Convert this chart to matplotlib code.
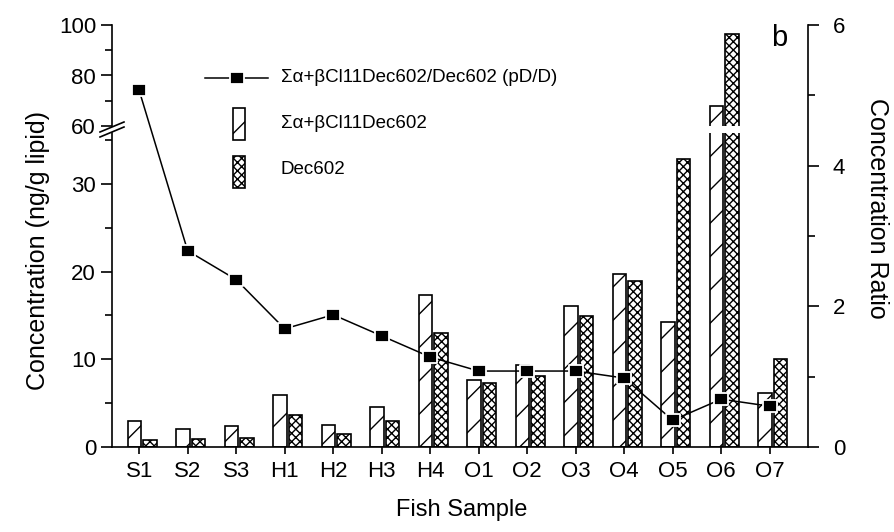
import numpy as np
import matplotlib.pyplot as plt
from matplotlib.lines import Line2D
from matplotlib.patches import Rectangle
from matplotlib.ticker import MultipleLocator

plt.rcParams['font.family'] = ['Liberation Sans', 'DejaVu Sans']
plt.rcParams['hatch.linewidth'] = 1.0

# datos
muestras = ['S1', 'S2', 'S3', 'H1', 'H2', 'H3', 'H4',
            'O1', 'O2', 'O3', 'O4', 'O5', 'O6', 'O7']
sum_cl11 = [3.0, 2.0, 2.35, 5.9, 2.5, 4.6, 17.3, 7.64, 9.35, 16.1, 19.76, 14.2, 68.0, 6.1]
dec602 = [0.8, 0.9, 1.07, 3.65, 1.45, 2.96, 13.0, 7.26, 8.13, 14.97, 18.93, 32.8, 96.5, 10.07]
ratio = [5.07, 2.79, 2.38, 1.68, 1.88, 1.58, 1.28, 1.08, 1.08, 1.08, 0.98, 0.38, 0.68, 0.58]

lab_ratio = 'Σα+βCl11Dec602/Dec602 (pD/D)'
lab_sum = 'Σα+βCl11Dec602'
lab_dec = 'Dec602'

W, H = 895, 532


def caja(x0, y0, x1, y1):
    # pixeles -> fraccion de figura
    return [x0 / W, 1 - y1 / H, (x1 - x0) / W, (y1 - y0) / H]


def px(x, y):
    return x / W, 1 - y / H


fig = plt.figure(figsize=(W / 100, H / 100), dpi=100)
ax_lo = fig.add_axes(caja(112, 133, 808, 447))
ax_hi = fig.add_axes(caja(112, 25, 808, 126))
ax_r = fig.add_axes(caja(112, 25, 808, 447))

x = np.arange(len(muestras))
ancho = 0.28
xlim = (-0.56, 13.79)
cruz = 'xxxx'

for ax in (ax_lo, ax_hi):
    ax.bar(x - 0.1, sum_cl11, ancho, facecolor='white', edgecolor='k',
           hatch='/', linewidth=1.2)
    ax.bar(x + 0.22, dec602, ancho, facecolor='white', edgecolor='k',
           hatch=cruz, linewidth=1.2)
    ax.set_xlim(xlim)
    ax.spines['top'].set_visible(False)
    ax.spines['right'].set_visible(False)
    ax.tick_params(axis='y', which='major', direction='out', length=8,
                   width=1.2, labelsize=16)
    ax.tick_params(axis='y', which='minor', direction='out', length=5, width=1.2)
    ax.spines['left'].set_linewidth(1.2)

ax_lo.set_ylim(0, 35.8)
ax_lo.yaxis.set_major_locator(MultipleLocator(10))
ax_lo.yaxis.set_minor_locator(MultipleLocator(5))
ax_lo.set_xticks(x)
ax_lo.set_xticklabels(muestras)
ax_lo.tick_params(axis='x', direction='out', length=5, width=1.2,
                  labelsize=16, pad=5)
ax_lo.spines['bottom'].set_linewidth(1.2)

ax_hi.set_ylim(60, 100)
ax_hi.set_yticks([60, 80, 100])
ax_hi.yaxis.set_minor_locator(MultipleLocator(10))
ax_hi.spines['bottom'].set_visible(False)
ax_hi.set_xticks([])

# eje derecho (cociente)
ax_r.patch.set_visible(False)
for s in ('top', 'left', 'bottom'):
    ax_r.spines[s].set_visible(False)
ax_r.spines['right'].set_linewidth(1.2)
ax_r.set_xlim(xlim)
ax_r.set_xticks([])
ax_r.set_ylim(0, 6)
ax_r.yaxis.tick_right()
ax_r.yaxis.set_major_locator(MultipleLocator(2))
ax_r.yaxis.set_minor_locator(MultipleLocator(1))
ax_r.tick_params(axis='y', which='major', direction='out', length=8,
                 width=1.2, labelsize=16, pad=10)
ax_r.tick_params(axis='y', which='minor', direction='out', length=5, width=1.2)

rect = [(-1.3, -1), (1.3, -1), (1.3, 1), (-1.3, 1), (-1.3, -1)]
ax_r.plot(x, ratio, '-', color='k', lw=1.1, zorder=4)
ax_r.plot(x, ratio, ls='none', marker=rect, ms=10.5, mfc='k', mec='white',
          mew=1.3, zorder=5)

# marcas de ruptura del eje
for dy in (0, 5):
    fig.add_artist(Line2D([100 / W, 124 / W],
                          [1 - (137 - dy) / H, 1 - (127 - dy) / H],
                          color='k', lw=1.2))

# leyenda
ly = 78
fig.add_artist(Line2D([205 / W, 268 / W], [1 - ly / H] * 2, color='k', lw=1.1))
fig.add_artist(Line2D([236.5 / W], [1 - ly / H], marker=rect, ms=10.5, mfc='k',
                      mec='white', mew=1.3, ls='none'))
fig.text(*px(281, ly), lab_ratio, fontsize=13.5, va='center', ha='left')
x0, y0 = px(233, 140)
fig.add_artist(Rectangle((x0, y0), 12 / W, 32 / H, transform=fig.transFigure,
                         facecolor='white', edgecolor='k', hatch='/', lw=1.2))
fig.text(*px(281, 124), lab_sum, fontsize=13.5, va='center', ha='left')
x0, y0 = px(233, 188)
fig.add_artist(Rectangle((x0, y0), 12 / W, 32 / H, transform=fig.transFigure,
                         facecolor='white', edgecolor='k', hatch=cruz, lw=1.2))
fig.text(*px(281, 170), lab_dec, fontsize=13.5, va='center', ha='left')

fig.text(*px(779, 38), 'b', fontsize=21, ha='center', va='center')

fig.text(*px(38, 250), 'Concentration (ng/g lipid)', fontsize=18,
         rotation=90, ha='center', va='center')
fig.text(*px(877, 208), 'Concentration Ratio', fontsize=18,
         rotation=270, ha='center', va='center')
fig.text(*px(462, 510), 'Fish Sample', fontsize=17, ha='center', va='center')

plt.savefig('out.png', dpi=100)
